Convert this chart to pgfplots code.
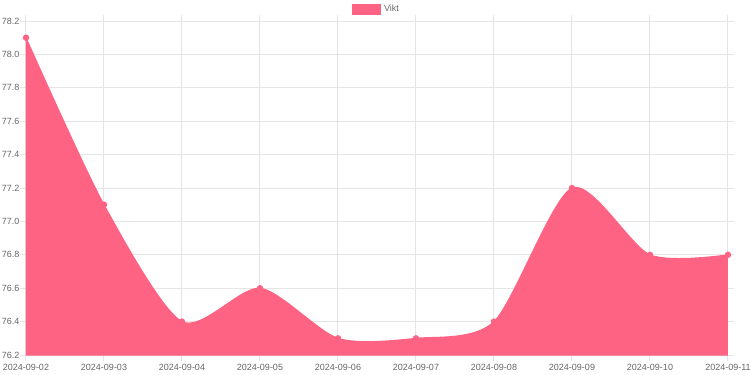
\documentclass[border=0pt]{standalone}
\usepackage{fontspec}
\setmainfont{Liberation Sans}
\usepackage{pgfplots}
\pgfplotsset{compat=1.18}
\definecolor{vikt}{RGB}{255,99,132}
\definecolor{gridc}{RGB}{229,229,229}
\definecolor{labc}{RGB}{102,102,102}
\begin{document}
\begin{tikzpicture}[x=1pt,y=1pt]
\begin{axis}[
  scale only axis,
  width=526.5pt, height=250.5pt,
  xmin=0, xmax=9, ymin=76.2, ymax=78.2,
  xtick={0,...,9},
  xticklabels={2024-09-02,2024-09-03,2024-09-04,2024-09-05,2024-09-06,2024-09-07,2024-09-08,2024-09-09,2024-09-10,2024-09-11},
  ytick={76.2,76.4,...,78.21},
  yticklabel style={/pgf/number format/fixed, /pgf/number format/fixed zerofill, /pgf/number format/precision=1, xshift=3pt},
  /pgf/number format/assume math mode=true,
  grid=major,
  major grid style={draw=gridc, line width=0.75pt},
  axis line style={draw=gridc, line width=0.75pt},
  tick align=outside,
  major tick length=4.5pt,
  tick style={draw=gridc, line width=0.75pt},
  tick label style={font=\fontsize{6.75pt}{8pt}\selectfont, text=labc},
  xticklabel style={yshift=1pt},
  clip mode=individual,
  legend style={at={(0.5,1)}, anchor=south, yshift=3.5pt, draw=none, fill=none,
    font=\fontsize{6.75pt}{8pt}\selectfont, text=labc, inner sep=0pt,
    legend cell align=left},
  legend image code/.code={\fill[vikt] (0pt,-3.75pt) rectangle (21pt,3.75pt);},
]
\addplot[fill=vikt, draw=vikt, line width=0.75pt, smooth, tension=0.45,
  mark=*, mark size=2pt, mark options={fill=vikt, draw=vikt}]
  coordinates {(0,78.1) (1,77.1) (2,76.4) (3,76.6) (4,76.3) (5,76.3) (6,76.4) (7,77.2) (8,76.8) (9,76.8)} \closedcycle;
\addlegendentry{Vikt}
\end{axis}
\pgfresetboundingbox
\path (current axis.south west) ++(-19.5pt,-15pt) rectangle ++(562.5pt,281.25pt);
\end{tikzpicture}
\end{document}
